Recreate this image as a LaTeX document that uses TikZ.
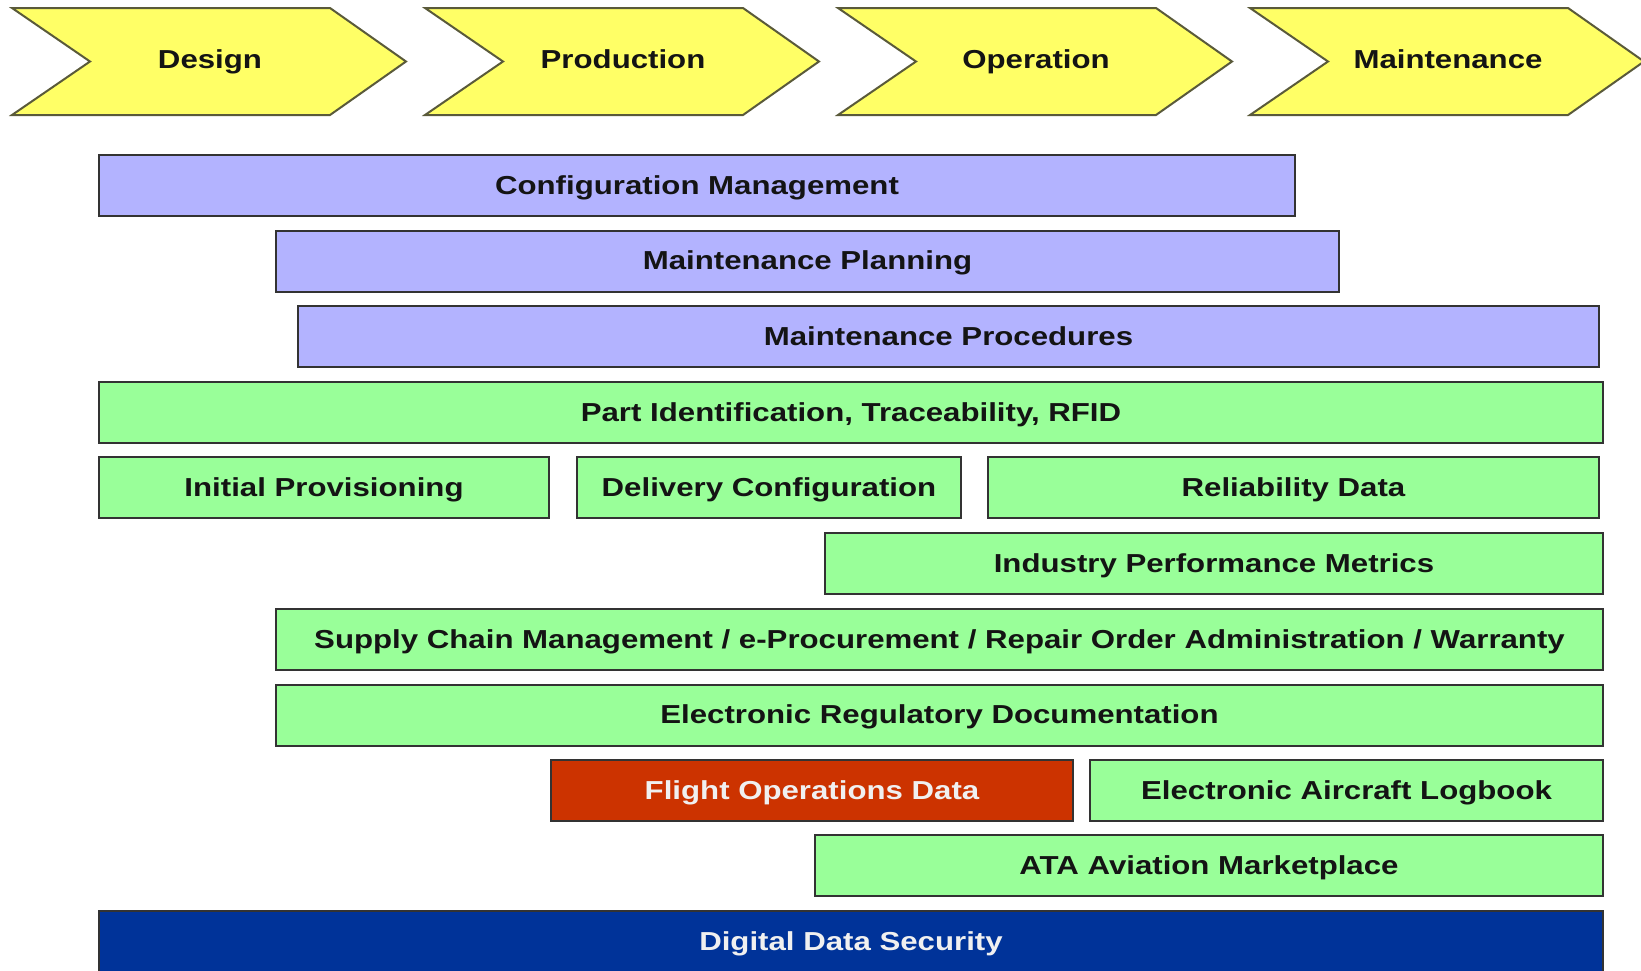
\documentclass[tikz,border=0pt]{standalone}
\usepackage{fontspec}
\setmainfont{Liberation Sans}[FakeStretch=1.2]
\definecolor{chevfill}{HTML}{FFFF66}
\definecolor{chevline}{HTML}{5A5A3A}
\definecolor{lav}{HTML}{B3B3FF}
\definecolor{grn}{HTML}{99FF99}
\definecolor{redb}{HTML}{CC3300}
\definecolor{blueb}{HTML}{003399}
\definecolor{edge}{HTML}{333333}
\definecolor{txt}{HTML}{141414}
\definecolor{wtxt}{HTML}{F0F0F0}
\begin{document}
\begin{tikzpicture}[x=1pt,y=-1pt,
  lbl/.style={font=\fontsize{26}{30}\selectfont\bfseries, text=txt, text height=17.5pt, text depth=0pt},
  box/.style={draw=edge, line width=2pt, anchor=north west, inner sep=0pt, outer sep=0pt,
    minimum height=61pt, lbl},
  lavbox/.style={box, fill=lav},
  grnbox/.style={box, fill=grn},
  chev/.style={fill=chevfill, draw=chevline, line width=2pt, line join=miter}]
\useasboundingbox (0,0) rectangle (1641,970);
% chevrons
\foreach \x/\nm/\t in {12/design/Design, 425/production/Production, 838/operation/Operation, 1250/maintenance/Maintenance}{
  \draw[chev] (\x,8) -- (\x+318,8) -- (\x+394,61.5) -- (\x+318,115) -- (\x,115) -- (\x+78,61.5) -- cycle;
  \node[lbl, inner sep=0pt] (\nm) at (\x+198,60) {\t};
}
% boxes
\node[lavbox, minimum width=1196pt] (cm)  at (99,155)   {Configuration Management};
\node[lavbox, minimum width=1063pt] (mp)  at (276,230.5) {Maintenance Planning};
\node[lavbox, minimum width=1301pt] (mpr) at (298,306)  {Maintenance Procedures};
\node[grnbox, minimum width=1504pt] (pid) at (99,382)   {Part Identification, Traceability, RFID};
\node[grnbox, minimum width=450pt]  (ip)  at (99,457)   {Initial Provisioning};
\node[grnbox, minimum width=384pt]  (dc)  at (577,457)  {Delivery Configuration};
\node[grnbox, minimum width=611pt]  (rd)  at (988,457)  {Reliability Data};
\node[grnbox, minimum width=778pt]  (ipm) at (825,533)  {Industry Performance Metrics};
\node[grnbox, minimum width=1327pt] (scm) at (276,609)  {Supply Chain Management / e-Procurement / Repair Order Administration / Warranty};
\node[grnbox, minimum width=1327pt] (erd) at (276,684.5) {Electronic Regulatory Documentation};
\node[box, fill=redb, text=wtxt, minimum width=522pt] (fod) at (551,760) {Flight Operations Data};
\node[grnbox, minimum width=513pt]  (eal) at (1090,760) {Electronic Aircraft Logbook};
\node[grnbox, minimum width=788pt]  (ata) at (815,835)  {ATA Aviation Marketplace};
\node[box, fill=blueb, text=wtxt, minimum width=1504pt] (dds) at (99,911) {Digital Data Security};
\end{tikzpicture}
\end{document}
